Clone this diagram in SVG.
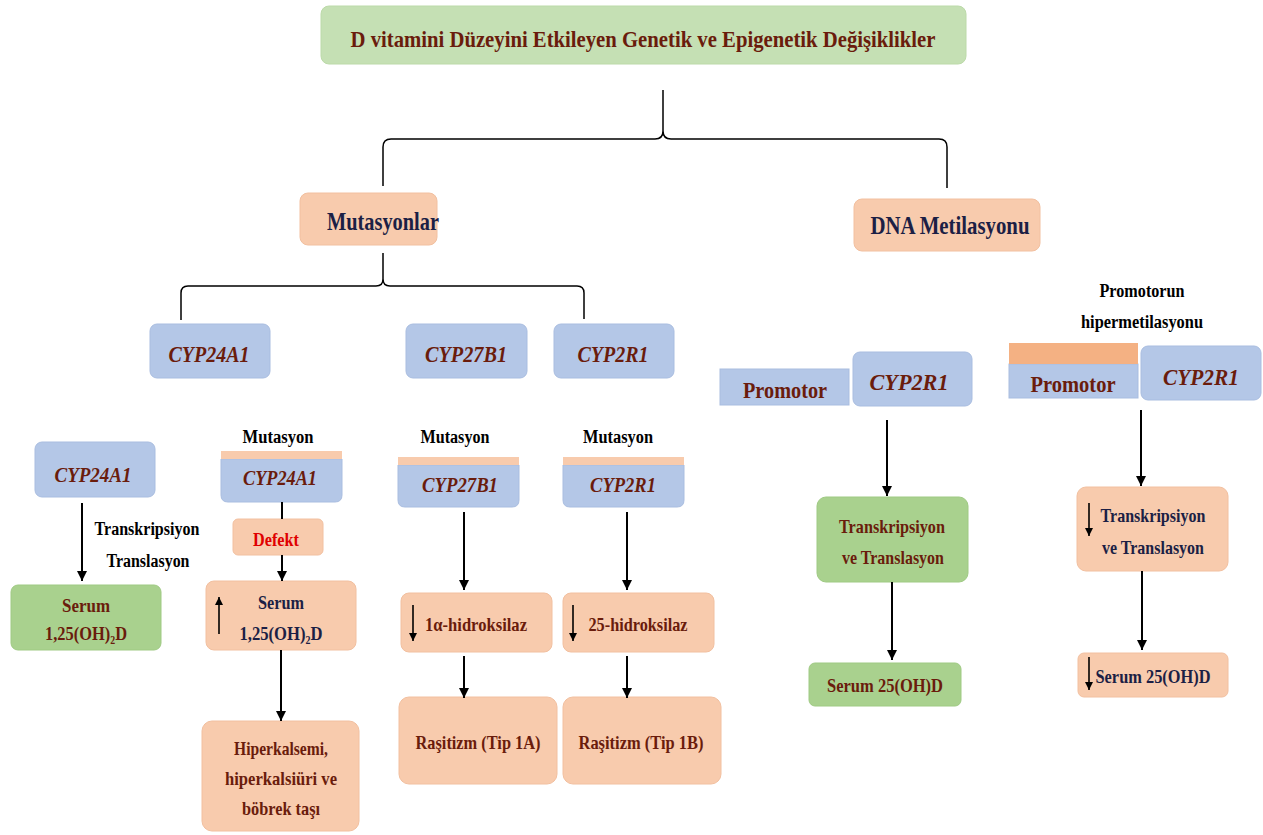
<svg xmlns="http://www.w3.org/2000/svg" width="1263" height="835" viewBox="0 0 1263 835">
<defs>
<marker id="ah" markerUnits="userSpaceOnUse" markerWidth="10" markerHeight="12" refX="10" refY="5" orient="auto" viewBox="0 0 10 10"><path d="M0,0 L10,5 L0,10 z" fill="#000"/></marker>
<marker id="as" markerUnits="userSpaceOnUse" markerWidth="8" markerHeight="8" refX="10" refY="5" orient="auto" viewBox="0 0 10 10"><path d="M0,0 L10,5 L0,10 z" fill="#000"/></marker>
</defs>
<style>
text{font-family:"Liberation Serif","Times New Roman","DejaVu Serif",serif;font-weight:bold;text-anchor:middle}
.br{fill:#6a1c0c}.nv{fill:#1c1f45}.bk{fill:#000}.rd{fill:#e00000}
.it{font-style:italic}
.blue{fill:#b4c7e7;stroke:#a9bde0;stroke-width:1}
.or{fill:#f8cbad;stroke:#f2c0a0;stroke-width:1}
.gr{fill:#a9d18e;stroke:#9fca83;stroke-width:1}
.tg{fill:#c5e0b4;stroke:#bcdaa9;stroke-width:1}
.strip{fill:#f8cbad}
.salmon{fill:#f4b183}
.ln{stroke:#000;stroke-width:2;fill:none}
.br2{stroke:#000;stroke-width:1.5;fill:none}
.sm{stroke:#000;stroke-width:1.6;fill:none}
</style>

<g id="title"><rect class="tg" x="321" y="6" width="645" height="58" rx="8"/><text class="br" x="643" y="47" font-size="24" textLength="585" lengthAdjust="spacingAndGlyphs">D vitamini Düzeyini Etkileyen Genetik ve Epigenetik Değişiklikler</text></g>

<g id="mutasyonlar"><rect class="or" x="300" y="193" width="137" height="52" rx="8"/><text class="nv" x="383" y="230" font-size="25" textLength="112" lengthAdjust="spacingAndGlyphs">Mutasyonlar</text></g>
<g id="dnamet"><rect class="or" x="854" y="199" width="186" height="52" rx="8"/><text class="nv" x="950" y="234" font-size="25" textLength="159" lengthAdjust="spacingAndGlyphs">DNA Metilasyonu</text></g>

<g id="cyp24a1_top"><rect class="blue" x="150" y="324" width="120" height="54" rx="7"/><text class="br it" x="209" y="362" font-size="24" textLength="81" lengthAdjust="spacingAndGlyphs">CYP24A1</text></g>
<g id="cyp27b1_top"><rect class="blue" x="406" y="324" width="121" height="54" rx="7"/><text class="br it" x="466" y="362" font-size="24" textLength="82" lengthAdjust="spacingAndGlyphs">CYP27B1</text></g>
<g id="cyp2r1_top"><rect class="blue" x="554" y="324" width="120" height="54" rx="7"/><text class="br it" x="613" y="362" font-size="24" textLength="71" lengthAdjust="spacingAndGlyphs">CYP2R1</text></g>

<!-- column 1 -->
<g id="cyp24a1_n"><rect class="blue" x="35" y="442" width="120" height="55" rx="7"/><text class="br it" x="93" y="482" font-size="22" textLength="77" lengthAdjust="spacingAndGlyphs">CYP24A1</text></g>
<g id="lbl_transk"><text class="bk" x="147" y="535" font-size="18" textLength="105" lengthAdjust="spacingAndGlyphs">Transkripsiyon</text><text class="bk" x="148" y="567" font-size="18" textLength="83" lengthAdjust="spacingAndGlyphs">Translasyon</text></g>
<g id="serum_green"><rect class="gr" x="11" y="585" width="150" height="65" rx="7"/><text class="br" x="86" y="612" font-size="19" textLength="48" lengthAdjust="spacingAndGlyphs">Serum</text><text class="br" x="86" y="640" font-size="19" textLength="82" lengthAdjust="spacingAndGlyphs">1,25(OH)₂D</text></g>

<!-- column 2 -->
<g id="mut_cyp24a1"><text class="bk" x="278" y="443" font-size="18" textLength="71" lengthAdjust="spacingAndGlyphs">Mutasyon</text><path class="blue" d="M221,459 H342 V495 Q342,502 335,502 H228 Q221,502 221,495 Z"/><rect class="strip" x="221" y="451" width="121" height="8"/><text class="br it" x="280" y="485" font-size="22" textLength="74" lengthAdjust="spacingAndGlyphs">CYP24A1</text></g>
<g id="defekt"><rect class="or" x="233" y="519" width="90" height="36" rx="5"/><text class="rd" x="276" y="546" font-size="18" textLength="46" lengthAdjust="spacingAndGlyphs">Defekt</text></g>
<g id="serum_up"><rect class="or" x="206" y="581" width="150" height="69" rx="8"/><text class="nv" x="281" y="609" font-size="19" textLength="46" lengthAdjust="spacingAndGlyphs">Serum</text><text class="nv" x="281" y="640" font-size="19" textLength="83" lengthAdjust="spacingAndGlyphs">1,25(OH)₂D</text><line class="sm" x1="219" y1="634" x2="219" y2="597" marker-end="url(#as)"/></g>
<g id="hiperkalsemi"><rect class="or" x="202" y="721" width="157" height="110" rx="10"/><text class="br" x="281" y="755" font-size="19" textLength="94" lengthAdjust="spacingAndGlyphs">Hiperkalsemi,</text><text class="br" x="281" y="785" font-size="19" textLength="112" lengthAdjust="spacingAndGlyphs">hiperkalsiüri ve</text><text class="br" x="281" y="815" font-size="19" textLength="78" lengthAdjust="spacingAndGlyphs">böbrek taşı</text></g>

<!-- column 3 -->
<g id="mut_cyp27b1"><text class="bk" x="455" y="443" font-size="18" textLength="69" lengthAdjust="spacingAndGlyphs">Mutasyon</text><path class="blue" d="M398,465 H519 V500 Q519,507 512,507 H405 Q398,507 398,500 Z"/><rect class="strip" x="398" y="457" width="121" height="8"/><text class="br it" x="460" y="492" font-size="22" textLength="76" lengthAdjust="spacingAndGlyphs">CYP27B1</text></g>
<g id="hidroksilaz1"><rect class="or" x="401" y="593" width="151" height="59" rx="8"/><text class="br" x="476" y="631" font-size="19" textLength="102" lengthAdjust="spacingAndGlyphs">1α-hidroksilaz</text><line class="sm" x1="413" y1="605" x2="413" y2="641" marker-end="url(#as)"/></g>
<g id="rasitizm1a"><rect class="or" x="399" y="697" width="158" height="87" rx="10"/><text class="br" x="478" y="749" font-size="19" textLength="125" lengthAdjust="spacingAndGlyphs">Raşitizm (Tip 1A)</text></g>

<!-- column 4 -->
<g id="mut_cyp2r1"><text class="bk" x="618" y="443" font-size="18" textLength="70" lengthAdjust="spacingAndGlyphs">Mutasyon</text><path class="blue" d="M563,465 H684 V500 Q684,507 677,507 H570 Q563,507 563,500 Z"/><rect class="strip" x="563" y="457" width="121" height="8"/><text class="br it" x="623" y="492" font-size="22" textLength="66" lengthAdjust="spacingAndGlyphs">CYP2R1</text></g>
<g id="hidroksilaz25"><rect class="or" x="563" y="593" width="151" height="59" rx="8"/><text class="br" x="638" y="631" font-size="19" textLength="99" lengthAdjust="spacingAndGlyphs">25-hidroksilaz</text><line class="sm" x1="573" y1="605" x2="573" y2="641" marker-end="url(#as)"/></g>
<g id="rasitizm1b"><rect class="or" x="563" y="697" width="158" height="87" rx="10"/><text class="br" x="641" y="749" font-size="19" textLength="125" lengthAdjust="spacingAndGlyphs">Raşitizm (Tip 1B)</text></g>

<!-- DNA methylation normal -->
<g id="promotor1"><rect class="blue" x="720" y="369" width="129" height="36"/><text class="br" x="785" y="398" font-size="23" textLength="84" lengthAdjust="spacingAndGlyphs">Promotor</text></g>
<g id="cyp2r1_m1"><rect class="blue" x="853" y="352" width="119" height="54" rx="7"/><text class="br it" x="909" y="390" font-size="23" textLength="79" lengthAdjust="spacingAndGlyphs">CYP2R1</text></g>
<g id="transk_green"><rect class="gr" x="817" y="497" width="151" height="85" rx="9"/><text class="br" x="892" y="533" font-size="19" textLength="106" lengthAdjust="spacingAndGlyphs">Transkripsiyon</text><text class="br" x="893" y="564" font-size="19" textLength="102" lengthAdjust="spacingAndGlyphs">ve Translasyon</text></g>
<g id="serum25_green"><rect class="gr" x="809" y="663" width="152" height="43" rx="6"/><text class="br" x="885" y="692" font-size="19" textLength="116" lengthAdjust="spacingAndGlyphs">Serum 25(OH)D</text></g>

<!-- hypermethylation -->
<g id="lbl_hiper"><text class="bk" x="1142" y="297" font-size="18" textLength="85" lengthAdjust="spacingAndGlyphs">Promotorun</text><text class="bk" x="1142" y="328" font-size="18" textLength="122" lengthAdjust="spacingAndGlyphs">hipermetilasyonu</text></g>
<g id="promotor2"><rect class="blue" x="1009" y="364" width="129" height="34"/><rect class="salmon" x="1009" y="343" width="129" height="21"/><text class="br" x="1073" y="392" font-size="23" textLength="85" lengthAdjust="spacingAndGlyphs">Promotor</text></g>
<g id="cyp2r1_m2"><rect class="blue" x="1141" y="346" width="120" height="54" rx="7"/><text class="br it" x="1201" y="385" font-size="23" textLength="76" lengthAdjust="spacingAndGlyphs">CYP2R1</text></g>
<g id="transk_down"><rect class="or" x="1077" y="487" width="151" height="84" rx="9"/><text class="nv" x="1153" y="522" font-size="19" textLength="105" lengthAdjust="spacingAndGlyphs">Transkripsiyon</text><text class="nv" x="1153" y="554" font-size="19" textLength="102" lengthAdjust="spacingAndGlyphs">ve Translasyon</text><line class="sm" x1="1089" y1="503" x2="1089" y2="536" marker-end="url(#as)"/></g>
<g id="serum25_down"><rect class="or" x="1078" y="653" width="150" height="44" rx="6"/><text class="nv" x="1153" y="683" font-size="19" textLength="115" lengthAdjust="spacingAndGlyphs">Serum 25(OH)D</text><line class="sm" x1="1089" y1="657" x2="1089" y2="690" marker-end="url(#as)"/></g>

<g id="connectors">
<path class="br2" d="M383,186 L383,147 Q383,139 391,139 L655,139 Q663,139 663,131 L663,90 M663,131 Q663,139 671,139 L939,139 Q947,139 947,147 L947,188"/>
<path class="br2" d="M181,320 L181,293 Q181,286 188,286 L376,286 Q383,286 383,279 L383,253 M383,279 Q383,286 390,286 L577,286 Q584,286 584,293 L584,319"/>
<line class="ln" x1="82" y1="503" x2="82" y2="581" marker-end="url(#ah)"/>
<line class="ln" x1="282" y1="502" x2="282" y2="519"/>
<line class="ln" x1="282" y1="555" x2="282" y2="581" marker-end="url(#ah)"/>
<line class="ln" x1="281" y1="650" x2="281" y2="721" marker-end="url(#ah)"/>
<line class="ln" x1="464" y1="512" x2="464" y2="590" marker-end="url(#ah)"/>
<line class="ln" x1="627" y1="512" x2="627" y2="590" marker-end="url(#ah)"/>
<line class="ln" x1="464" y1="656" x2="464" y2="698" marker-end="url(#ah)"/>
<line class="ln" x1="627" y1="656" x2="627" y2="698" marker-end="url(#ah)"/>
<line class="ln" x1="887" y1="420" x2="887" y2="496" marker-end="url(#ah)"/>
<line class="ln" x1="892" y1="582" x2="892" y2="660" marker-end="url(#ah)"/>
<line class="ln" x1="1141" y1="410" x2="1141" y2="486" marker-end="url(#ah)"/>
<line class="ln" x1="1142" y1="571" x2="1142" y2="650" marker-end="url(#ah)"/>
</g>
</svg>
